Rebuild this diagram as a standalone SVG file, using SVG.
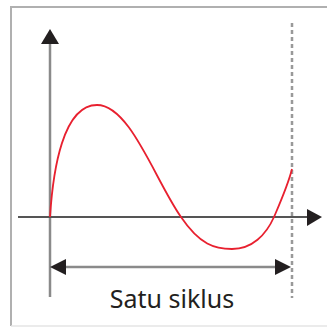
<svg xmlns="http://www.w3.org/2000/svg" width="327" height="328" viewBox="0 0 327 328">
<style>
.frame{fill:none;stroke:#b0b0b0;stroke-width:2}
.frame2{fill:none;stroke:#e4e4e4;stroke-width:1.5}
.axis{stroke:#8a8a8a;stroke-width:2.5;fill:none}
.haxis{stroke:#555;stroke-width:1.8;fill:none}
.head{fill:#231f20}
.dash{stroke:#999;stroke-width:2.5;stroke-dasharray:4,3;fill:none}
.curve{fill:none;stroke:#e8202f;stroke-width:1.8}
.label{font-family:"Noto Sans","Open Sans",sans-serif;font-size:25px;fill:#231f20}
</style>
<rect width="327" height="328" fill="#fff"/>
<path class="frame" d="M327,7 H11 V326"/>
<path class="frame2" d="M11,326 H327"/>
<g id="connectors">
<line class="axis" x1="50" y1="40" x2="50" y2="297"/>
<polygon class="head" points="50,29 59,44 41,44"/>
<line class="haxis" x1="18" y1="217" x2="310" y2="217"/>
<polygon class="head" points="322,217 307,209 307,226"/>
<line class="dash" x1="292" y1="23" x2="292" y2="298"/>
<line class="axis" x1="60" y1="267" x2="282" y2="267"/>
<polygon class="head" points="50,267 66,259 66,275"/>
<polygon class="head" points="291,267 275,259 275,275"/>
</g>
<g id="curve">
<path class="curve" d="M50,217 C53,170 63,105 97,105 C130,105 155,180 181,217 C200,245 215,249 232,249 C252,249 266,235 274,217 C280,203 288,185 292,169"/>
</g>
<g id="label">
<text class="label" x="172" y="308" text-anchor="middle">Satu siklus</text>
</g>
</svg>
